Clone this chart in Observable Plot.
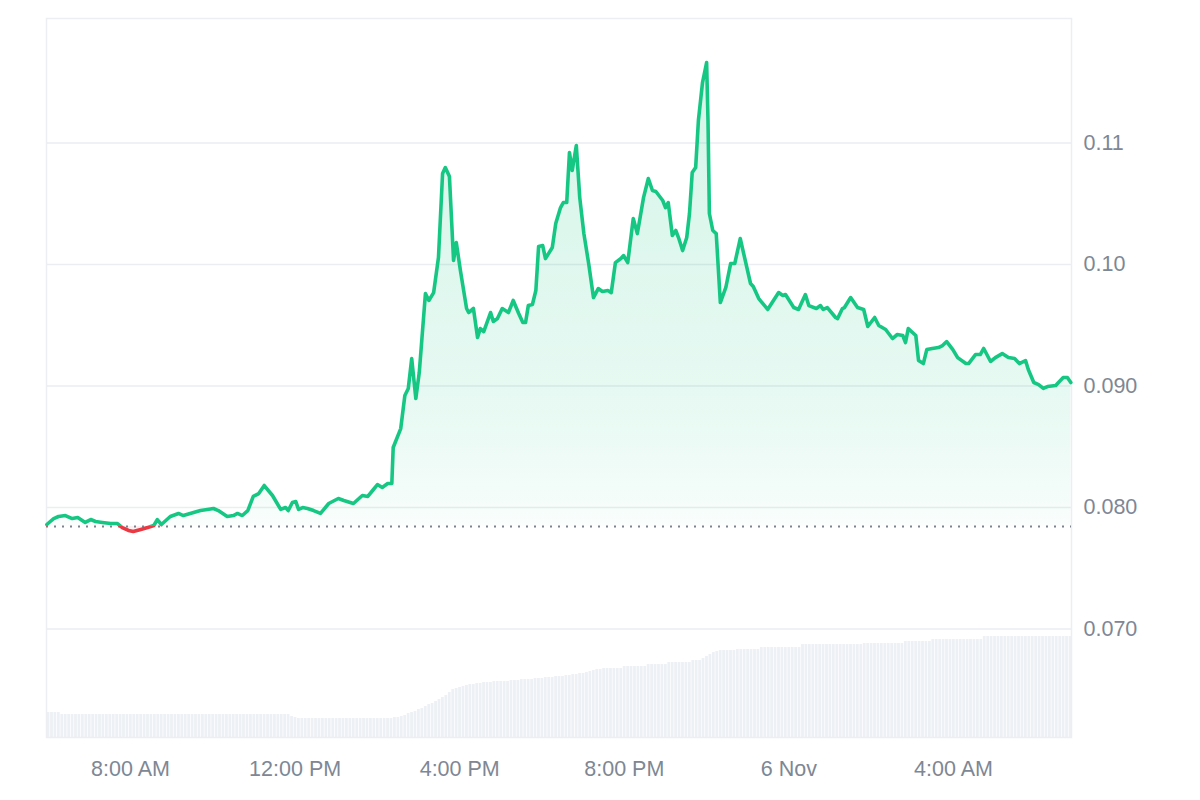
<!DOCTYPE html>
<html><head><meta charset="utf-8">
<script src="https://cdn.jsdelivr.net/npm/d3@7"></script>
<script src="https://cdn.jsdelivr.net/npm/@observablehq/plot@0.6"></script>
<style>
html,body{margin:0;padding:0;background:#fff;}
#wrap{position:relative;width:1200px;height:800px;}
#wrap svg{position:absolute;left:0;top:0;}
</style></head><body><div id="wrap"></div>
<script>
// ---- data (times: minutes after 00:00, 5 Nov) ----
const minutes = [358,363,368,375,385,395,403,414,422,429,439,451,461,468,477,484,495,505,514,519,525,538,550,557,572,582,592,601,608,621,630,636,643,651,659,667,675,687,699,706,710,716,721,725,731,738,747,757,769,783,791,805,818,826,833,840,847,855,861,863,874,880,885,890,896,901,910,915,922,929,935,939,945,951,955,961,970,973,980,986,990,995,1005,1009,1015,1022,1031,1038,1046,1052,1056,1060,1066,1071,1075,1081,1085,1095,1100,1107,1111,1116,1120,1124,1130,1135,1141,1148,1155,1162,1168,1176,1181,1187,1195,1199,1205,1213,1219,1228,1235,1241,1246,1256,1260,1264,1270,1275,1279,1285,1291,1295,1299,1304,1308,1314,1320,1322,1324,1329,1334,1340,1348,1355,1361,1369,1384,1388,1396,1409,1425,1431,1435,1447,1454,1464,1469,1480,1486,1490,1496,1508,1511,1518,1521,1530,1540,1549,1555,1565,1571,1581,1591,1598,1606,1610,1614,1625,1629,1636,1641,1649,1658,1664,1670,1679,1686,1698,1702,1712,1719,1724,1734,1741,1751,1760,1769,1776,1785,1789,1797,1804,1811,1817,1829,1833,1840,1846,1851];
const price = [0.07860,0.07885,0.07909,0.07926,0.07934,0.07909,0.07918,0.07877,0.07901,0.07885,0.07877,0.07868,0.07868,0.07835,0.07811,0.07802,0.07819,0.07835,0.07852,0.07901,0.07860,0.07926,0.07951,0.07934,0.07959,0.07975,0.07984,0.07992,0.07975,0.07926,0.07934,0.07951,0.07934,0.07975,0.08091,0.08115,0.08181,0.08099,0.07984,0.08000,0.07975,0.08041,0.08049,0.07984,0.08000,0.07992,0.07975,0.07951,0.08033,0.08074,0.08058,0.08033,0.08099,0.08091,0.08140,0.08189,0.08165,0.08198,0.08198,0.08494,0.08650,0.08922,0.08979,0.09226,0.08897,0.09111,0.09761,0.09704,0.09769,0.10058,0.10749,0.10798,0.10724,0.10033,0.10181,0.09951,0.09638,0.09605,0.09638,0.09399,0.09473,0.09448,0.09605,0.09531,0.09555,0.09638,0.09605,0.09704,0.09597,0.09523,0.09523,0.09662,0.09671,0.09786,0.10148,0.10156,0.10049,0.10140,0.10337,0.10469,0.10510,0.10510,0.10922,0.10774,0.10979,0.10551,0.10255,0.10008,0.09728,0.09802,0.09778,0.09786,0.09769,0.10016,0.10049,0.10074,0.10016,0.10378,0.10255,0.10551,0.10708,0.10609,0.10601,0.10527,0.10469,0.10510,0.10239,0.10280,0.10222,0.10115,0.10222,0.10420,0.10757,0.10798,0.11185,0.11498,0.11662,0.11185,0.10420,0.10280,0.10255,0.09687,0.09811,0.10008,0.10008,0.10214,0.09844,0.09819,0.09720,0.09630,0.09769,0.09745,0.09753,0.09646,0.09630,0.09753,0.09662,0.09638,0.09662,0.09630,0.09646,0.09564,0.09555,0.09638,0.09646,0.09728,0.09646,0.09630,0.09490,0.09564,0.09498,0.09465,0.09391,0.09424,0.09416,0.09358,0.09473,0.09416,0.09210,0.09185,0.09300,0.09309,0.09317,0.09333,0.09366,0.09300,0.09234,0.09185,0.09185,0.09259,0.09259,0.09309,0.09202,0.09234,0.09267,0.09234,0.09226,0.09185,0.09210,0.09136,0.09029,0.09012,0.08980,0.08996,0.09004,0.09029,0.09070,0.09070,0.09029];
const BASELINE = 0.07844; // opening price (dotted reference)

// volume bars, one every 5 minutes starting 05:58 (relative units)
const volStart = 358, volStep = 5;
const volume = [
25,25,25,25,
23,23,23,23,23,23,23,23,23,23,
23,23,23,23,23,23,23,23,23,23,
23,23,23,23,23,23,23,23,23,23,
23,23,23,23,23,23,23,23,23,23,
23,23,23,23,23,23,23,23,23,23,
23,23,23,23,23,23,23,23,23,23,
23,23,23,23,23,23,23,
21,20,19,
19,19,19,19,19,19,19,19,19,19,
19,19,19,19,19,19,19,19,19,19,
19,19,19,19,19,19,19,
20,20,
21,22,24,25,26,28,29,31,33,34,
36,38,40,42,45,48,49,50,51,52,
53,53,54,54,55,55,55,56,56,56,
56,56,57,57,57,58,58,58,58,59,
59,59,60,60,60,61,61,61,62,62,
63,63,64,64,65,66,67,68,68,
69,69,69,69,69,69,
71,71,71,71,71,71,71,
73,73,73,73,73,73,
75,75,75,75,75,75,75,
77,77,77,
79,81,83,85,86,
87,87,87,87,87,
88,88,88,88,88,88,88,
90,90,90,90,90,90,90,90,90,90,90,90,
93,93,93,93,93,93,93,93,93,93,93,93,93,93,93,93,93,93,
94,94,94,94,94,94,94,94,94,94,94,94,
96,96,96,96,96,96,96,96,
98,98,98,98,98,98,98,98,98,98,98,98,98,98,98,
101,101,101,101,101,101,101,101,101,101,101,101,101,101,101,101,101,101,101,101,101,101,101,101,101,101
];

const yTicks = [0.07, 0.08, 0.09, 0.10, 0.11];
const yTickLabels = ["0.070", "0.080", "0.090", "0.10", "0.11"];
const xTicks = [480, 720, 960, 1200, 1440, 1680];
const xTickLabels = ["8:00 AM", "12:00 PM", "4:00 PM", "8:00 PM", "6 Nov", "4:00 AM"];

// ---- build ----
const base = new Date(2024, 10, 5, 0, 0, 0);
const at = m => new Date(base.getTime() + m * 60000);
const series = minutes.map((m, i) => ({date: at(m), price: price[i]}));
const bars = volume.map((v, i) => ({x1: at(volStart + i * volStep), x2: at(volStart + (i + 1) * volStep), v}));
const xDomain = [at(357.5), at(1852)];
const font = '"Liberation Sans", Arial, Helvetica, sans-serif';
const W = 1200, H = 800;
const M = {marginLeft: 46, marginRight: 129, marginTop: 18, marginBottom: 63};
const GREEN = "#16c784", RED = "#ea3943";

const volChart = Plot.plot({
  width: W, height: H, ...M,
  style: {background: "transparent"},
  x: {type: "time", domain: xDomain, axis: null},
  y: {domain: [0, 100], range: [H - M.marginBottom, H - M.marginBottom - 100], axis: null},
  marks: [
    Plot.rectY(bars, {x1: "x1", x2: "x2", y: "v", fill: "#edf0f4", insetLeft: 0.35, insetRight: 0.35})
  ]
});

const priceChart = Plot.plot({
  width: W, height: H, ...M,
  style: {fontFamily: font, fontSize: "21.5px", color: "#7e8794", background: "transparent"},
  x: {type: "time", domain: xDomain, ticks: xTicks.map(at),
      tickFormat: d => xTickLabels[xTicks.indexOf(Math.round((d - base) / 60000))],
      tickSize: 0, tickPadding: 23, label: null},
  y: {domain: [0.06107, 0.12025], axis: "right", ticks: yTicks,
      tickFormat: d => yTickLabels[yTicks.indexOf(d)], tickSize: 0, tickPadding: 12, label: null},
  marks: [
    Plot.ruleY(yTicks, {stroke: "#ebedf0", strokeWidth: 1.5}),
    Plot.frame({stroke: "#eceef1", strokeWidth: 1.5}),
    Plot.areaY(series, {x: "date", y1: BASELINE, y2: "price", fill: "url(#areaGrad)"}),
    Plot.ruleY([BASELINE], {stroke: "#7d838c", strokeWidth: 2, strokeDasharray: "2,6"}),
    Plot.line(series, {x: "date", y: "price", stroke: "url(#lineGrad)", strokeWidth: 3.6,
      strokeLinejoin: "round", strokeLinecap: "round"})
  ]
});

// gradients positioned with the chart's own y scale
const ys = priceChart.scale("y");
const yPix = d3.scaleLinear(ys.domain, ys.range);
const yb = yPix(BASELINE);
const svg = d3.select(priceChart);
const defs = svg.insert("defs", ":first-child");
const lg = defs.append("linearGradient").attr("id", "lineGrad")
  .attr("gradientUnits", "userSpaceOnUse").attr("x1", 0).attr("x2", 0).attr("y1", 0).attr("y2", H);
[[0, GREEN], [yb / H, GREEN], [yb / H, RED], [1, RED]].forEach(([o, c]) =>
  lg.append("stop").attr("offset", o).attr("stop-color", c));
const ag = defs.append("linearGradient").attr("id", "areaGrad")
  .attr("gradientUnits", "userSpaceOnUse").attr("x1", 0).attr("x2", 0).attr("y1", 0).attr("y2", H);
[[yPix(0.12), GREEN, 0.18], [yPix(0.0975), GREEN, 0.13], [yPix(0.088), GREEN, 0.10],
 [yPix(0.0805), GREEN, 0.045], [yb, GREEN, 0.02], [yb, RED, 0.08], [H, RED, 0.08]].forEach(([y, c, op]) =>
  ag.append("stop").attr("offset", Math.max(0, Math.min(1, y / H))).attr("stop-color", c).attr("stop-opacity", op));

const wrap = document.getElementById("wrap");
wrap.appendChild(volChart);
wrap.appendChild(priceChart);
</script></body></html>
